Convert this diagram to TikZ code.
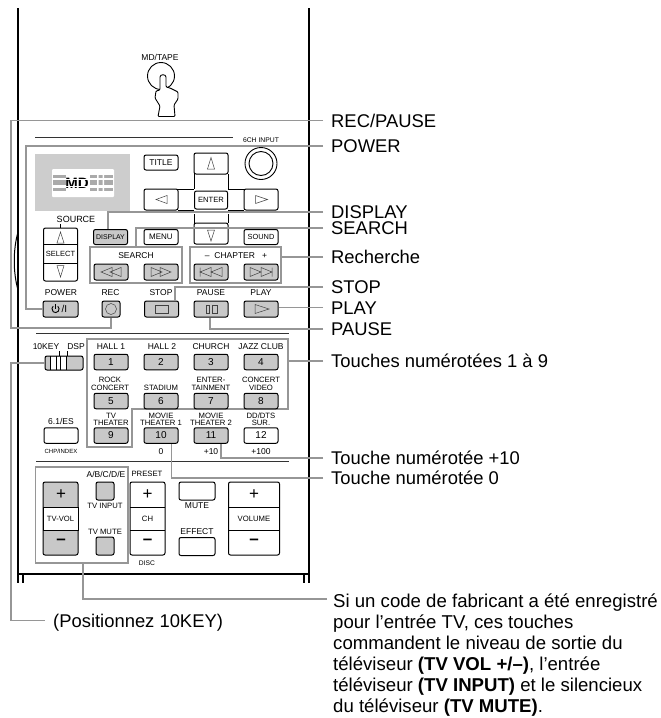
\documentclass[tikz,border=0pt]{standalone}
\usepackage{fontspec}
\setmainfont{Liberation Sans}
\usetikzlibrary{arrows.meta,calc,positioning}
\definecolor{rcgrey}{RGB}{200,200,200}
\definecolor{rcpanel}{RGB}{205,205,205}
\definecolor{rcleader}{RGB}{150,150,150}
\newcommand{\fs}[1]{\fontsize{#1}{#1}\selectfont}

\begin{document}
\begin{tikzpicture}[x=1pt,y=-1pt,>=Latex,font=\fs{8.5},
    btn/.style={draw,rounded corners=2pt,line width=1pt,inner sep=0pt,minimum width=34pt,minimum height=16pt,fill=white,font=\fs{10}},
    greybtn/.style={btn,fill=rcgrey},
    lbl/.style={inner sep=0pt,align=center,font=\fs{8.5}},
    smalbl/.style={lbl,font=\fs{7.7}},
    tiny/.style={inner sep=0pt,font=\fs{6}},
    sign/.style={inner sep=0pt,font=\fs{17}},
    greybox/.style={draw=rcleader,line width=1.1pt,inner sep=0pt},
    leader/.style={draw=rcleader,line width=1.1pt},
    callout/.style={anchor=west,inner ysep=0pt,inner xsep=8pt,text height=13.3pt,text depth=0pt,font=\fs{18.4}},
    icon/.style={draw=black!75,line width=.5pt},
    caseline/.style={line width=1.3pt},
    sepline/.style={line width=.9pt,black!80}]
  \useasboundingbox (0,0) rectangle (661,718);
  % case
  \draw[caseline,line width=1.6pt] (18,8)--(18,583) (309,8)--(309,583);
  \draw[caseline] (18,574)--(309,574) (23,574)--(23,583) (304,574)--(304,583);
  \draw[line width=1pt] (18,232) .. controls (13,250) and (13,272) .. (18,290);
  \draw[sepline,line width=.7pt] (35,137)--(233,137);
  \draw[sepline] (36,333)--(289,333) (36,461)--(289,461);
  % callouts
  \node[callout] (crec) at (323,120.5) {REC/PAUSE};
  \node[callout] (cpower) at (323,146) {POWER};
  \node[callout] (cdisplay) at (323,212) {DISPLAY};
  \node[callout] (csearch) at (323,228) {SEARCH};
  \node[callout] (cchapter) at (323,257) {Recherche};
  \node[callout] (cstop) at (323,287) {STOP};
  \node[callout] (cplay) at (323,307.5) {PLAY};
  \node[callout] (cpause) at (323,329) {PAUSE};
  \node[callout] (ckeys) at (323,361) {Touches numérotées 1 à 9};
  \node[callout] (cten) at (323,458) {Touche numérotée +10};
  \node[callout] (czero) at (323,478) {Touche numérotée 0};
  \node[callout] (cpos) at (45,620.5) {(Positionnez 10KEY)};
  \node[anchor=north west,inner sep=0pt,align=left,font=\fontsize{18.6}{21}\selectfont] (ctv) at (333,594) {Si un code de fabricant a été enregistré\\pour l’entrée TV, ces touches\\commandent le niveau de sortie du\\téléviseur \textbf{(TV VOL +/–)}, l’entrée\\téléviseur \textbf{(TV INPUT)} et le silencieux\\du téléviseur \textbf{(TV MUTE)}.};
  % display
  \node[fill=rcpanel,minimum width=95pt,minimum height=57pt,inner sep=0pt] (panel) at (82.5,182.5) {};
  \node[fill=white,rounded corners=1pt,minimum width=62pt,minimum height=28pt,inner sep=0pt] (screen) at (83,183) {};
  \foreach \y/\h in {176.5/3,182.5/5,189/3}{
    \fill[rcgrey!85!black] (53,\y-\h/2) rectangle (66,\y+\h/2);
    \fill[rcgrey!85!black] (90,\y-\h/2) rectangle (113,\y+\h/2);
  }
  \fill[white] (97,174) rectangle (98.5,192) (102.5,174) rectangle (104,192);
  \node[inner sep=0pt,font=\fs{15}\bfseries] (mdtext) at (77,183) {MD};
  \draw[white,line width=.7pt] (65,179)--(90,179) (65,186.5)--(90,186.5);
  % boxes round the groups
  \node[greybox,minimum width=92pt,minimum height=36pt] (searchbox) at (136,265) {};
  \node[greybox,minimum width=91pt,minimum height=36pt] (chapterbox) at (235.5,265) {};
  \node[greybox,minimum width=92.5pt,minimum height=96pt] (tvbox) at (81.75,515) {};
  \draw[greybox] (87,339)--(288,339)--(288,409)--(132,409)--(132,447)--(87,447)--cycle;
  \coordinate (keyedge) at (288,361);
  \coordinate (tvdrop) at (83,563);
  \coordinate (tvend) at (327,599);
  % top part
  \node[lbl] (tapelbl) at (160,57) {MD/TAPE};
  \node[draw,circle,line width=.9pt,minimum size=27pt,inner sep=0pt] (tapering) at (161,76) {};
  \draw[line width=.9pt,fill=white,rounded corners=1pt] (160,90)--(160,78) .. controls (160,74) and (166,74) .. (166,78)--(166,87)--(170,88)--(174,90)--(178,92)--(178,99)--(174,105)--(175,116.5)--(158,116.5)--(160,106)--(155,98)--(156,91)--cycle;
  \node[tiny,font=\fs{6.8}] (inputlbl) at (261,140) {6CH INPUT};
  \node[draw,circle,line width=.9pt,minimum size=32pt,inner sep=0pt] (dialout) at (261,163.5) {};
  \node[draw,circle,line width=.9pt,minimum size=24pt,inner sep=0pt] (dialin) at (261,163.5) {};
  \draw[line width=.9pt] (178,189)--(194,189) (178,210)--(194,210) (228,189)--(244,189) (228,210)--(244,210)
    (194,174)--(194,189) (228,174)--(228,189) (194,214)--(194,223) (228,214)--(228,223);
  \node[btn,font=\fs{8.5},minimum height=15pt] (title) at (161,162.5) {TITLE};
  \node[btn,minimum height=21pt] (upkey) at (211,163.5) {};
  \node[btn,minimum height=21pt] (leftkey) at (161,199.5) {};
  \node[btn,minimum height=21pt] (rightkey) at (261,199.5) {};
  \node[btn,font=\fs{7.6},minimum width=33pt,minimum height=18pt] (enter) at (211,200) {ENTER};
  \node[btn,minimum height=21pt] (downkey) at (211,233.5) {};
  \draw[icon] (207.5,169)--(211,157.5)--(214.5,169)--cycle;
  \draw[icon] (156,199.5)--(167,195.5)--(167,203.5)--cycle;
  \draw[icon] (267.5,199.5)--(255.5,195.5)--(255.5,203.5)--cycle;
  \draw[icon] (207.5,230)--(211,241)--(214.5,230)--cycle;
  \node[btn,draw=black,fill=rcgrey,font=\fs{6.9},minimum height=15pt] (display) at (110.5,237) {DISPLAY};
  \node[btn,font=\fs{8},minimum height=15pt] (menu) at (161,237) {MENU};
  \node[btn,font=\fs{7.4},minimum height=15pt] (sound) at (261,237) {SOUND};
  % source stack
  \node[lbl,font=\fs{9}] (sourcelbl) at (76,219) {SOURCE};
  \node[btn,minimum height=53pt] (source) at (60.5,254.5) {};
  \draw[line width=.7pt] (60.5,224)--(60.5,228) (44,244)--(77,244) (44,263)--(77,263);
  \node[lbl,font=\fs{7.5}] (selectlbl) at (60.5,254) {SELECT};
  \draw[icon] (57,243)--(60.5,232)--(64,243)--cycle;
  \draw[icon] (57,265.5)--(60.5,277)--(64,265.5)--cycle;
  % search and chapter
  \node[lbl] (searchlbl) at (136,256) {SEARCH};
  \node[lbl] (chapterlbl) at (236,256) {–\ \ CHAPTER\ \ \ +};
  \node[greybtn] (rew) at (111,272) {};
  \node[greybtn] (ffw) at (161,272) {};
  \node[greybtn] (prev) at (211,272) {};
  \node[greybtn] (next) at (261,272) {};
  \draw[icon,shift={(rew.center)}] (-10,0)--(1,-4.5)--(1,4.5)--cycle (-1,0)--(10,-4.5)--(10,4.5)--cycle;
  \draw[icon,shift={(ffw.center)}] (10,0)--(-1,-4.5)--(-1,4.5)--cycle (1,0)--(-10,-4.5)--(-10,4.5)--cycle;
  \draw[icon,shift={(prev.center)}] (-11,-4.5)--(-11,4.5) (-11,0)--(0,-4.5)--(0,4.5)--cycle (0,0)--(11,-4.5)--(11,4.5)--cycle;
  \draw[icon,shift={(next.center)}] (11,-4.5)--(11,4.5) (11,0)--(0,-4.5)--(0,4.5)--cycle (0,0)--(-11,-4.5)--(-11,4.5)--cycle;
  % transport row
  \foreach \name/\txt/\x in {powerlbl/POWER/61,reclbl/REC/110.5,stoplbl/STOP/161,pauselbl/PAUSE/211,playlbl/PLAY/261}
    \node[lbl] (\name) at (\x,293) {\txt};
  \node[greybtn,minimum width=35pt] (power) at (60.5,309) {\phantom{O}/I};
  \node[greybtn,minimum width=18pt] (rec) at (111,309) {};
  \node[greybtn] (stop) at (161.5,309) {};
  \node[greybtn] (pause) at (211,309) {};
  \node[greybtn] (play) at (261,309) {};
  \draw[line width=.9pt,shift={(power.center)}] (-5,0) ++(-50:3.6) arc (-50:230:3.6);
  \draw[line width=.9pt,shift={(power.center)}] (-5,-5)--(-5,0);
  \draw[icon] (rec.center) circle (5.5pt);
  \draw[icon,shift={(stop.center)}] (-6.5,-4) rectangle (6.5,4);
  \draw[icon,shift={(pause.center)}] (-5,-4) rectangle (-2,4) (1,-4) rectangle (6,4);
  \draw[icon,shift={(play.center)}] (-6,-4.5)--(8,0)--(-6,4.5)--cycle;
  % slider
  \node[lbl] (tenlbl) at (46,347) {10KEY};
  \node[lbl] (dsplbl) at (76,347) {DSP};
  \draw[line width=.7pt] (59,351)--(59,356) (67,351)--(67,356);
  \node[greybtn,minimum width=38pt,minimum height=14pt] (slider) at (64,363) {};
  \fill[white] (50,357) rectangle (66.5,369);
  \draw[line width=.7pt] (50,356)--(50,370) (56,356)--(56,370) (60.5,356)--(60.5,370) (66.7,356)--(66.7,370);
  % numbered keys
  \foreach \name/\txt/\x in {hall/HALL 1/111,halltwo/HALL 2/162,church/CHURCH/211,jazz/JAZZ CLUB/261}
    \node[lbl] (\name) at (\x,347) {\txt};
  \foreach \name/\txt/\x in {rock/ROCK\\CONCERT/110,stadium/STADIUM/161,entlbl/ENTER-\\TAINMENT/211,video/CONCERT\\VIDEO/261}
    \node[smalbl,anchor=south] (\name) at (\x,390.5) {\txt};
  \foreach \name/\txt/\x in {tvth/TV\\THEATER/111,movone/MOVIE\\THEATER 1/161,movtwo/MOVIE\\THEATER 2/211,dts/{DD/DTS\\SUR.}/261}
    \node[smalbl,anchor=south] (\name) at (\x,426) {\txt};
  \foreach \n/\x/\y in {1/111/362,2/161/362,3/211/362,4/261/362,5/111/401,6/161/401,7/211/401,8/261/401,9/111/435.5,10/161/435.5,11/211/435.5}
    \node[greybtn,minimum height=15.5pt] (k\n) at (\x,\y) {\n};
  \node[btn,minimum height=15.5pt] (k12) at (261,435.5) {12};
  \node[btn,minimum height=15.5pt] (es) at (61,435.5) {};
  \node[lbl] (eslbl) at (61,421.5) {6.1/ES};
  \node[tiny] (chplbl) at (61,451.5) {CHP/INDEX};
  \foreach \name/\txt/\x in {zero/0/161,plusten/+10/211,plushundred/+100/261}
    \node[lbl] (\name) at (\x,451.5) {\txt};
  % tv group
  \node[greybtn,minimum width=35pt,minimum height=73pt] (tvvol) at (60.5,518.5) {};
  \node[draw,fill=white,line width=.9pt,minimum width=35pt,minimum height=23pt,inner sep=0pt,font=\fs{7.6}] (tvvollbl) at (60.5,518.5) {TV-VOL};
  \node[sign] (tvplus) at (61,495) {+};
  \node[sign,font=\fs{17}\bfseries] (tvminus) at (61,541.5) {–};
  \node[lbl] (abclbl) at (106,474) {A/B/C/D/E};
  \node[greybtn,minimum width=18pt,minimum height=18pt] (tvinput) at (105,491) {};
  \node[smalbl] (inputkey) at (105,505.5) {TV INPUT};
  \node[smalbl] (mutekey) at (105,532) {TV MUTE};
  \node[greybtn,minimum width=18pt,minimum height=18pt] (tvmute) at (105,546) {};
  % channel and volume
  \node[smalbl] (presetlbl) at (147,474) {PRESET};
  \node[btn,minimum width=35pt,minimum height=73pt] (ch) at (147.5,518.5) {};
  \draw[line width=.9pt] (130,507)--(165,507) (130,530)--(165,530);
  \node[sign] (chplus) at (147.5,495) {+};
  \node[smalbl] (chlbl) at (147.5,518.5) {CH};
  \node[sign,font=\fs{17}\bfseries] (chminus) at (147.5,541.5) {–};
  \node[tiny,font=\fs{6.7}] (disclbl) at (147,563) {DISC};
  \node[btn,minimum width=36pt,minimum height=18pt] (mute) at (197,491) {};
  \node[lbl] (mutelbl) at (197,505.5) {MUTE};
  \node[lbl] (effectlbl) at (197,532) {EFFECT};
  \node[btn,minimum width=36pt,minimum height=18pt] (effect) at (197,546.5) {};
  \node[btn,minimum width=51pt,minimum height=73pt] (volume) at (254,518.5) {};
  \draw[line width=.9pt] (229,507)--(279,507) (229,530)--(279,530);
  \node[sign] (volplus) at (254,495) {+};
  \node[smalbl] (vollbl) at (254,518.5) {VOLUME};
  \node[sign,font=\fs{17}\bfseries] (volminus) at (254,541.5) {–};
  % leaders
  \coordinate (recbend) at (11,328);
  \coordinate (powerbend) at (26,309);
  \coordinate (tenbend) at (11,620.5);
  \draw[leader] (crec.west) -| (recbend) -| (rec.south);
  \draw[leader] (cpower.west) -| (powerbend) -- (power.west);
  \draw[leader] (cdisplay.west) -| ([xshift=-2.5pt]display.north);
  \draw[leader] (csearch.west) -| (searchbox.north);
  \draw[leader] (cchapter.west) -- (chapterbox.east |- cchapter.west);
  \draw[leader] (cstop.west) -| ([xshift=13.5pt]stop.north);
  \draw[leader] (cplay.west) -- (play.east |- cplay.west);
  \draw[leader] (cpause.west) -| ([xshift=-1pt]pause.south);
  \draw[leader] (ckeys.west) -- (keyedge);
  \draw[leader] (cten.west) -| ([xshift=10pt]k11.south);
  \draw[leader] (czero.west) -| ([xshift=10.5pt]k10.south);
  \draw[leader] (slider.west) -| (tenbend) -- (cpos.west);
  \draw[leader] (tvend) -| (tvdrop);
\end{tikzpicture}
\end{document}
